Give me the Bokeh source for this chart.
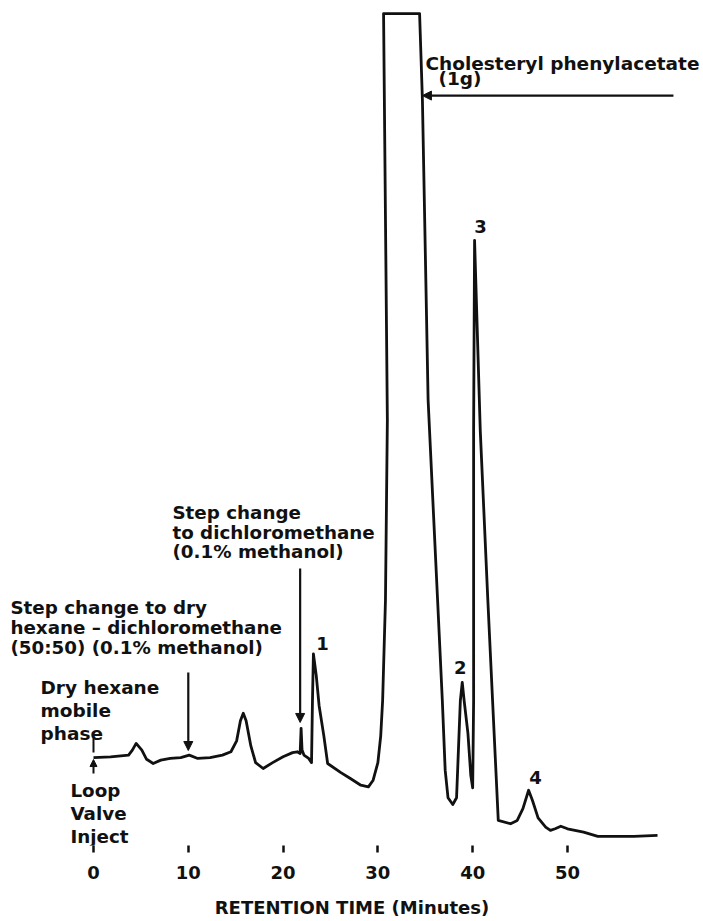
import numpy as np
from bokeh.plotting import figure
from bokeh.models import Range1d, FixedTicker, Arrow, NormalHead, ColumnDataSource
from bokeh.core.properties import value
from bokeh.embed import file_html
from bokeh.resources import INLINE

# ---- data (retention time in minutes, detector signal in % of full scale)
retention_time = [0.0, 1.8, 3.7, 4.1, 4.5, 5.1, 5.6, 6.3, 7.1, 8.1, 9.2, 10.1, 11.0, 12.3, 13.6,
                  14.5, 15.1, 15.5, 15.8, 16.1, 16.6, 17.1, 17.9, 18.9, 20.0, 21.0, 21.5, 21.8,
                  21.9, 22.0, 22.2, 22.7, 23.0, 23.1, 23.2, 23.5, 23.8, 24.3, 24.7, 26.1, 27.1,
                  28.2, 29.0, 29.5, 30.0, 30.3, 30.5, 30.8, 31.0, 30.6, 34.4, 34.7, 35.0, 35.3,
                  35.8, 36.3, 36.8, 37.1, 37.4, 37.9, 38.3, 38.7, 38.9, 39.1, 39.5, 39.8, 40.0,
                  40.1, 40.1, 40.2, 40.8, 41.6, 42.1, 42.7, 44.0, 44.7, 45.3, 45.9, 46.3, 46.9,
                  47.7, 48.2, 48.7, 49.3, 50.0, 51.7, 53.2, 57.0, 59.5]
detector_signal = [10.5, 10.6, 10.8, 11.4, 12.2, 11.4, 10.3, 9.8, 10.2, 10.4, 10.5, 10.8, 10.4, 10.5, 10.8,
                   11.2, 12.5, 14.9, 15.8, 14.9, 11.9, 9.9, 9.2, 9.9, 10.6, 11.1, 11.2, 11.0,
                   14.0, 11.4, 10.8, 10.4, 9.9, 17.3, 22.9, 20.3, 16.7, 13.1, 9.8, 8.7, 8.0,
                   7.2, 7.0, 7.8, 9.9, 13.1, 17.3, 29.3, 50.8, 99.4, 99.4, 89.0, 71.1, 53.2,
                   41.2, 29.3, 17.3, 9.0, 5.7, 4.9, 5.7, 17.3, 19.5, 17.3, 13.4, 8.4, 6.9,
                   17.3, 49.6, 72.3, 49.6, 29.3, 17.3, 3.0, 2.6, 3.0, 4.4, 6.6, 5.4, 3.3,
                   2.2, 1.8, 2.0, 2.3, 2.0, 1.6, 1.1, 1.1, 1.2]

tick_values = [0, 10, 20, 30, 40, 50]
axis_title = "RETENTION TIME (Minutes)"

peak_labels = ["1", "2", "3", "4"]
peak_times = [23.2, 38.9, 40.2, 45.9]

event_times = [0.0, 10.0, 21.8]   # loop valve inject, step change 1, step change 2
compound_lines = ["Cholesteryl phenylacetate", "(1g)"]
note_dcm = ["Step change", "to dichloromethane", "(0.1% methanol)"]
note_mix = ["Step change to dry", "hexane \u2013 dichloromethane", "(50:50) (0.1% methanol)"]
note_hexane = ["Dry hexane", "mobile", "phase"]
note_inject = ["Loop", "Valve", "Inject"]

FONT = value("DejaVu Sans")
INK = "#111111"

p = figure(frame_width=703, frame_height=845, min_border=0,
           x_range=Range1d(-9.81, 64.35), y_range=Range1d(0, 100.96),
           y_axis_location=None, output_backend="svg", toolbar_location=None,
           background_fill_color="white", border_fill_color="white")
p.outline_line_color = None
p.grid.visible = False

ax = p.xaxis[0]
ax.ticker = FixedTicker(ticks=tick_values)
ax.axis_line_color = None
ax.minor_tick_line_color = None
ax.major_tick_in = 0
ax.major_tick_out = 7
ax.major_tick_line_width = 2.5
ax.major_tick_line_color = INK
ax.major_label_text_font = "DejaVu Sans"
ax.major_label_text_font_style = "bold"
ax.major_label_text_font_size = "18px"
ax.major_label_text_color = INK
ax.major_label_standoff = 13
ax.axis_label = axis_title
ax.axis_label_text_font = "DejaVu Sans"
ax.axis_label_text_font_style = "bold"
ax.axis_label_text_font_size = "18px"
ax.axis_label_text_color = INK
ax.axis_label_standoff = 15

# chromatogram trace
p.line(retention_time, detector_signal, line_color=INK, line_width=2.8, line_join="round")

# peak numbers, placed above each peak maximum
t_arr = np.array(retention_time)
s_arr = np.array(detector_signal)
peak_y = [float(s_arr[np.abs(t_arr - pt) <= 0.15].max()) for pt in peak_times]
label_dx = [9, -2, 6, 7]
label_dy = [-10, -15, -14, -13]
for lab, pt, py, dx, dy in zip(peak_labels, peak_times, peak_y, label_dx, label_dy):
    p.text(x=[pt], y=[py], text=[lab], x_offset=dx, y_offset=dy,
           text_font=FONT, text_font_style="bold", text_font_size="18px",
           text_color=INK, text_align="center", text_baseline="middle")

# annotation text blocks: (lines, left x, first baseline y, line step, size)
blocks = [
    (compound_lines, [35.02, 36.39], 93.43, 1.79, "18.5px"),
    (note_dcm, [8.33] * 3, 39.78, 2.33, "18.3px"),
    (note_mix, [-8.76] * 3, 28.44, 2.39, "18.3px"),
    (note_hexane, [-5.59] * 3, 18.88, 2.75, "18.5px"),
    (note_inject, [-2.43] * 3, 6.57, 2.75, "18.3px"),
]
for lines, lx, y0, step, size in blocks:
    src = ColumnDataSource(dict(x=lx, y=[y0 - i * step for i in range(len(lines))], text=lines))
    p.text(x="x", y="y", text="text", source=src, text_font=FONT, text_font_style="bold",
           text_font_size=size, text_color=INK, text_align="left", text_baseline="alphabetic")

# arrows
def head(size=9):
    return NormalHead(size=size, fill_color=INK, line_color=INK, line_width=1)

p.add_layout(Arrow(end=head(), x_start=61.18, y_start=89.6, x_end=34.7, y_end=89.6,
                   line_width=2.2, line_color=INK))
p.add_layout(Arrow(end=head(), x_start=event_times[1], y_start=20.67,
                   x_end=event_times[1], y_end=11.35, line_width=2.2, line_color=INK))
p.add_layout(Arrow(end=head(), x_start=event_times[2], y_start=33.09,
                   x_end=event_times[2], y_end=14.70, line_width=2.2, line_color=INK))
p.add_layout(Arrow(end=None, x_start=event_times[0], y_start=12.78,
                   x_end=event_times[0], y_end=11.11, line_width=2.0, line_color=INK))
p.add_layout(Arrow(end=head(7), x_start=event_times[0], y_start=8.60,
                   x_end=event_times[0], y_end=10.27, line_width=2.0, line_color=INK))

open("out.html", "w").write(file_html(p, INLINE))
